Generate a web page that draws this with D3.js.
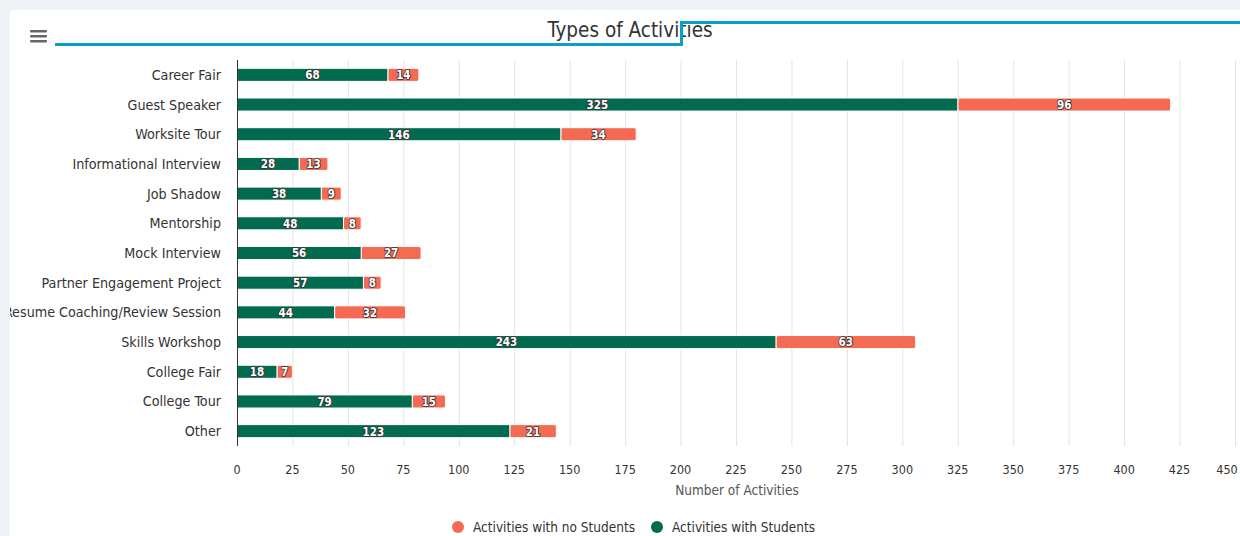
<!DOCTYPE html>
<html><head><meta charset="utf-8">
<script src="https://cdn.jsdelivr.net/npm/d3@7"></script>
<style>
html,body{margin:0;padding:0;background:#eff3f8;}
svg{display:block;}
</style></head>
<body>
<svg id="chart" width="1240" height="536"></svg>
<script>
const categories = ["Career Fair","Guest Speaker","Worksite Tour","Informational Interview","Job Shadow","Mentorship","Mock Interview","Partner Engagement Project","Resume Coaching/Review Session","Skills Workshop","College Fair","College Tour","Other"];
const withStudents = [68,325,146,28,38,48,56,57,44,243,18,79,123];
const noStudents = [14,96,34,13,9,8,27,8,32,63,7,15,21];
const xTicks = [0,25,50,75,100,125,150,175,200,225,250,275,300,325,350,375,400,425,450];
const seriesNames = ["Activities with no Students","Activities with Students"];
const colors = {no:"#f46a53", with:"#026a4f"};

const FONT = "'DejaVu Sans Condensed','Roboto',sans-serif";
const svg = d3.select("#chart");
const W = 1240, H = 536;

const defs = svg.append("defs");
defs.append("clipPath").attr("id","cardclip").append("rect")
  .attr("x",10).attr("y",10).attr("width",W).attr("height",H).attr("rx",4);
svg.append("rect").attr("x",10).attr("y",10).attr("width",W).attr("height",H)
  .attr("rx",4).attr("fill","#ffffff");
const card = svg.append("g").attr("clip-path","url(#cardclip)");

[31,36,41].forEach(y=>{
  svg.append("rect").attr("x",30).attr("y",y-1).attr("width",17).attr("height",2.6)
    .attr("rx",1).attr("fill","#666");
});

svg.append("text").attr("x",630).attr("y",37).attr("text-anchor","middle")
  .attr("font-family",FONT).attr("font-size",20.5).attr("fill","#333")
  .text("Types of Activities");

svg.append("path").attr("d","M55,44.5 H681.5 V22.5 H1240")
  .attr("fill","none").attr("stroke","#0a9fc7").attr("stroke-width",3);

const x = d3.scaleLinear().domain([0,450]).range([237,1235]);
const y = d3.scaleBand().domain(categories).range([60,446]).paddingInner(0.56).paddingOuter(0.28);

card.append("g").selectAll("line").data(xTicks).join("line")
  .attr("x1",d=>x(d)+0.5).attr("x2",d=>x(d)+0.5).attr("y1",60).attr("y2",446)
  .attr("stroke","#e3e3e3").attr("stroke-width",1);

card.append("g").selectAll("text").data(categories).join("text")
  .attr("x",221).attr("y",d=>y(d)+y.bandwidth()/2).attr("dy","0.35em")
  .attr("text-anchor","end").attr("font-family",FONT).attr("font-size",14.2)
  .attr("fill","#333").text(d=>d);

card.append("g").selectAll("text").data(xTicks).join("text")
  .attr("x",d=> d===450 ? x(d)-8 : x(d)).attr("y",474).attr("text-anchor","middle")
  .attr("font-family",FONT).attr("font-size",12.5).attr("fill","#333").text(d=>d);

card.append("text").attr("x",737).attr("y",495).attr("text-anchor","middle")
  .attr("font-family",FONT).attr("font-size",13.5).attr("fill","#555")
  .text("Number of Activities");

const rows = categories.map((c,i)=>({c, w:withStudents[i], n:noStudents[i]}));
const bars = card.append("g");
rows.forEach(r=>{
  const yy = y(r.c), h = y.bandwidth();
  const x0 = x(r.w), x1 = x(r.w + r.n);
  bars.append("rect").attr("x",x0).attr("y",yy).attr("width",x1-x0).attr("height",h)
    .attr("rx",2).attr("fill",colors.no).attr("stroke","#fff").attr("stroke-width",1);
  bars.append("rect").attr("x",x(0)).attr("y",yy).attr("width",x(r.w)-x(0)).attr("height",h)
    .attr("fill",colors.with).attr("stroke","#fff").attr("stroke-width",1);
});
const lab = card.append("g").attr("font-family",FONT).attr("font-size",11.5)
  .attr("font-weight","bold").attr("text-anchor","middle");
rows.forEach(r=>{
  const cy = y(r.c)+y.bandwidth()/2;
  [[ (x(0)+x(r.w))/2, r.w ], [ (x(r.w)+x(r.w+r.n))/2, r.n ]].forEach(([cx,v])=>{
    lab.append("text").attr("x",cx).attr("y",cy).attr("dy","0.38em")
      .attr("fill","#fff").attr("stroke","#333").attr("stroke-width",1.6)
      .attr("stroke-linejoin","round").attr("paint-order","stroke").text(v);
  });
});

card.append("line").attr("x1",237.5).attr("x2",237.5).attr("y1",60).attr("y2",446)
  .attr("stroke","#333").attr("stroke-width",1);

const leg = card.append("g").attr("font-family",FONT).attr("font-size",13.5).attr("fill","#333");
[[458,473,colors.no,seriesNames[0]],[657,672,colors.with,seriesNames[1]]].forEach(([cx,tx,c,t])=>{
  leg.append("circle").attr("cx",cx).attr("cy",527).attr("r",6).attr("fill",c);
  leg.append("text").attr("x",tx).attr("y",527).attr("dy","0.35em").text(t);
});
</script>
</body></html>
